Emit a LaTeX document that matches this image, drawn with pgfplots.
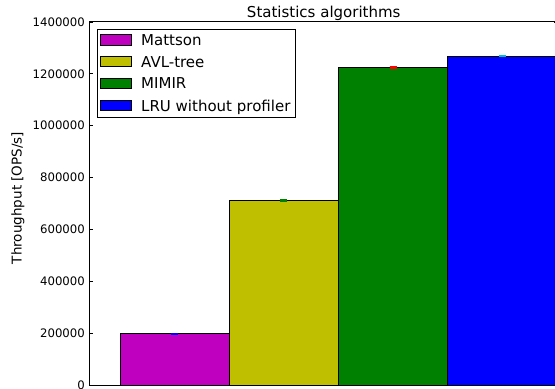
\documentclass[border=0pt]{standalone}
\usepackage{fontspec}
\setmainfont{DejaVu Sans}
\usepackage{pgfplots}
\pgfplotsset{compat=1.18}
\definecolor{cM}{HTML}{BF00BF}
\definecolor{cA}{HTML}{BFBF00}
\definecolor{cG}{HTML}{008000}
\definecolor{cB}{HTML}{0000FF}
\definecolor{cC}{HTML}{00BFBF}
\begin{document}
\begin{tikzpicture}
\useasboundingbox (-89.5bp,-4bp) rectangle (465.5bp,385bp);
\clip (-89.5bp,-4bp) rectangle (465.5bp,385bp);
\begin{axis}[
  at={(0,0)}, anchor=south west,
  scale only axis,
  width=468.5bp, height=363bp,
  xmin=-0.779, xmax=3.509,
  ymin=0, ymax=1400000,
  xtick=\empty,
  ytick={0,200000,400000,600000,800000,1000000,1200000,1400000},
  scaled y ticks=false,
  yticklabel style={/pgf/number format/fixed, /pgf/number format/1000 sep={}, inner sep=0pt, xshift=-4.5bp, font=\fontsize{11.7bp}{14bp}\selectfont},
  /pgf/number format/assume math mode=true,
  tick align=inside, ytick pos=both,
  major tick length=4bp,
  tick style={black, line width=0.8bp},
  axis line style={black, line width=1bp},
  title={Statistics algorithms},
  title style={at={(axis description cs:0.5,1)}, anchor=base, yshift=-1.5bp, font=\fontsize{15bp}{18bp}\selectfont},
  ylabel={Throughput [OPS/s]},
  ylabel style={at={(axis description cs:-0.1526,0.515)}, anchor=center, font=\fontsize{13.5bp}{16bp}\selectfont},
  ybar, bar width=1, bar shift=0pt,
  legend style={at={(axis description cs:0.016,0.981)}, anchor=north west, draw=black, line width=0.8bp, fill=white, font=\fontsize{15bp}{18bp}\selectfont, inner xsep=3bp, inner ysep=3bp, row sep=5.4bp},
  legend cell align=left,
  legend image code/.code={\draw[#1,draw=black,line width=0.8bp] (0bp,-4.5bp) rectangle (31bp,6bp); \path (38bp,0bp);},
  every axis plot/.append style={draw=black, line width=0.8bp},
]
\addplot[fill=cM, error bars/.cd, y dir=both, y explicit, error bar style={cB, line width=1.5bp}, error mark options={rotate=90, mark size=3.5bp, line width=1.5bp, cB}]
  coordinates {(0,198000) +- (0,1500)};
\addlegendentry{Mattson}
\addplot[fill=cA, error bars/.cd, y dir=both, y explicit, error bar style={cG, line width=1.5bp}, error mark options={rotate=90, mark size=3.5bp, line width=1.5bp, cG}]
  coordinates {(1,712000) +- (0,1500)};
\addlegendentry{AVL-tree}
\addplot[fill=cG, error bars/.cd, y dir=both, y explicit, error bar style={red, line width=1.5bp}, error mark options={rotate=90, mark size=3.5bp, line width=1.5bp, red}]
  coordinates {(2,1225000) +- (0,1500)};
\addlegendentry{MIMIR}
\addplot[fill=cB, error bars/.cd, y dir=both, y explicit, error bar style={cC, line width=1.5bp}, error mark options={rotate=90, mark size=3.5bp, line width=1.5bp, cC}]
  coordinates {(3,1269000) +- (0,1500)};
\addlegendentry{LRU without profiler}
\end{axis}
\end{tikzpicture}
\end{document}
